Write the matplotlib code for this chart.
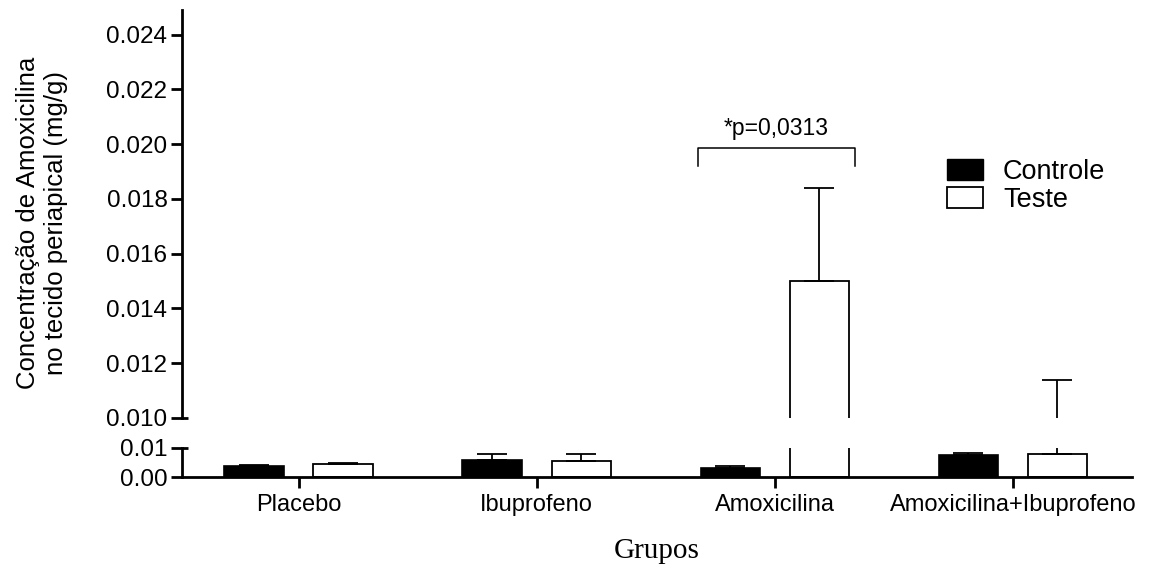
import numpy as np
import matplotlib
matplotlib.use('Agg')
import matplotlib.pyplot as plt
from matplotlib.patches import Patch

plt.rcParams['font.family'] = ['Liberation Sans', 'DejaVu Sans']

# dados
grupos = ['Placebo', 'Ibuprofeno', 'Amoxicilina', 'Amoxicilina+Ibuprofeno']
controle = [0.0039, 0.0060, 0.0031, 0.0076]
controle_erro = [0.0004, 0.0021, 0.0006, 0.0006]
teste = [0.0046, 0.0056, 0.0150, 0.0080]
teste_erro = [0.0003, 0.0025, 0.0034, 0.0034]
p_texto = '*p=0,0313'

W, H = 1160, 572
fig = plt.figure(figsize=(W / 100, H / 100), dpi=100)

left, width = 182 / W, 950 / W
ax_top = fig.add_axes([left, 1 - 418 / H, width, 408 / H])
ax_bot = fig.add_axes([left, 1 - 477 / H, width, 29 / H])

x = np.arange(len(grupos))
bw = 0.25
off = 0.187
lw_spine = 2.0

for ax in (ax_top, ax_bot):
    ax.bar(x - off, controle, bw, color='black', edgecolor='black', linewidth=1.2)
    ax.bar(x + off, teste, bw, color='white', edgecolor='black', linewidth=1.3)
    ax.errorbar(x - off, controle, yerr=[np.zeros(4), controle_erro], fmt='none',
                ecolor='black', elinewidth=1.3, capsize=10.8, capthick=1.3)
    ax.errorbar(x + off, teste, yerr=[np.zeros(4), teste_erro], fmt='none',
                ecolor='black', elinewidth=1.3, capsize=10.8, capthick=1.3)
    ax.set_xlim(-0.49, 3.5)
    for s in ('top', 'right'):
        ax.spines[s].set_visible(False)
    for s in ('left', 'bottom'):
        ax.spines[s].set_linewidth(lw_spine)
    ax.tick_params(axis='y', direction='out', length=8, width=lw_spine,
                   labelsize=17.5, pad=2.5)
    ax.tick_params(axis='x', direction='out', length=8, width=lw_spine,
                   labelsize=17, pad=4)

# segmento superior
ax_top.set_ylim(0.010, 0.0249)
ax_top.set_yticks(np.arange(0.010, 0.0241, 0.002))
ax_top.set_yticklabels(['%.3f' % v for v in np.arange(0.010, 0.0241, 0.002)])
ax_top.spines['bottom'].set_visible(False)
ax_top.set_xticks([])

# segmento inferior
ax_bot.set_ylim(0, 0.01)
ax_bot.set_yticks([0.0, 0.01])
ax_bot.set_yticklabels(['0.00', '0.01'])
ax_bot.set_xticks(x)
ax_bot.set_xticklabels(grupos)

# marcas de quebra do eixo
ax_top.plot([0, 0.006], [0.010, 0.010], color='black', lw=lw_spine,
            transform=ax_top.get_yaxis_transform(), clip_on=False, solid_capstyle='butt')
ax_bot.plot([0, 0.006], [0.01, 0.01], color='black', lw=lw_spine,
            transform=ax_bot.get_yaxis_transform(), clip_on=False, solid_capstyle='butt')

# colchete de significância
i = grupos.index('Amoxicilina')
xl = i - off - bw / 2 - 0.012
xr = i + off + bw / 2 + 0.024
yb, yt = 0.0192, 0.01987
ax_top.plot([xl, xl, xr, xr], [yb, yt, yt, yb], color='black', lw=1.1)
ax_top.text((xl + xr) / 2, 0.02058, p_texto, ha='center', va='center', fontsize=16.5)

# legenda
handles = [Patch(facecolor='black', edgecolor='black', label='Controle'),
           Patch(facecolor='white', edgecolor='black', linewidth=1.3, label='Teste')]
ax_top.legend(handles=handles, loc='upper left', bbox_to_anchor=(947 / W, 1 - 159 / H),
              bbox_transform=fig.transFigure, frameon=False, fontsize=19.5,
              handlelength=1.32, handleheight=0.8, handletextpad=0.75,
              labelspacing=0.08, borderpad=0, borderaxespad=0)

# rótulos dos eixos
fig.text(0.036, 0.61, 'Concentração de Amoxicilina\nno tecido periapical (mg/g)',
         rotation=90, ha='center', va='center', fontsize=18.5, multialignment='center')
fig.text((182 + 950 / 2) / W, 1 - 551 / H, 'Grupos', ha='center', va='center',
         fontsize=21, family=['Liberation Serif', 'DejaVu Serif'])

fig.savefig('out.png', dpi=100, facecolor='white')
